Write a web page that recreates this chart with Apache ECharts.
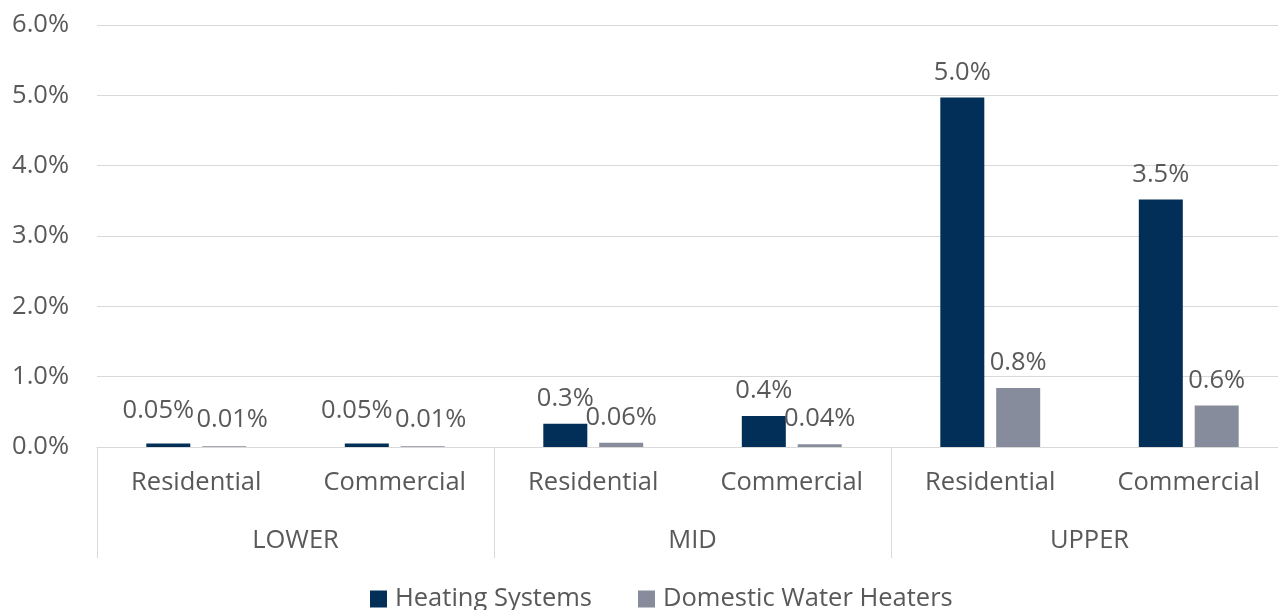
<!DOCTYPE html>
<html>
<head>
<meta charset="utf-8">
<script src="https://cdn.jsdelivr.net/npm/echarts@6/dist/echarts.min.js"></script>
<style>html,body{margin:0;padding:0;background:#fff}#c{width:1278px;height:610px}</style>
</head>
<body>
<div id="c"></div>
<script>
const subCategories = ['Residential', 'Commercial', 'Residential', 'Commercial', 'Residential', 'Commercial'];
const groups = ['LOWER', 'MID', 'UPPER'];
const heatingSystems = [0.05, 0.05, 0.33, 0.44, 4.97, 3.52];
const domesticWaterHeaters = [0.01, 0.01, 0.06, 0.04, 0.84, 0.59];
const seriesNames = ['Heating Systems', 'Domestic Water Heaters'];

const FONT = 'Open Sans';
const FS = 25.5;
const TXT = '#595959';
const fmt = v => (v < 0.1 ? v.toFixed(2) : v.toFixed(1)) + '%';

// Excel nudges the crowded labels of the LOWER group apart
function nudge(params) {
  if (params.dataIndex > 1) return {};
  return params.seriesIndex === 0 ? {dx: -10, dy: -8} : {dx: 8, dy: -2};
}

const chart = echarts.init(document.getElementById('c'), null, {renderer: 'canvas'});
chart.setOption({
  animation: false,
  textStyle: {fontFamily: FONT},
  grid: {left: 97, top: 25, width: 1191, height: 422, outerBoundsMode: 'none', containLabel: false},
  legend: {
    top: 586, left: 370, padding: 0,
    itemWidth: 17, itemHeight: 17, itemGap: 46,
    icon: 'rect',
    textStyle: {fontFamily: FONT, fontSize: FS, color: TXT, padding: [0, 0, 0, 3]},
    data: seriesNames
  },
  xAxis: [
    {
      type: 'category', data: subCategories, position: 'bottom',
      axisLine: {show: true, lineStyle: {color: '#D9D9D9', width: 1}},
      axisTick: {show: false},
      axisLabel: {fontFamily: FONT, fontSize: FS, color: TXT, margin: 23, interval: 0}
    },
    {
      type: 'category', data: groups, position: 'bottom',
      axisLine: {show: false},
      axisTick: {show: true, length: 111, lineStyle: {color: '#D9D9D9', width: 1}},
      axisLabel: {fontFamily: FONT, fontSize: FS, color: TXT, margin: 81, interval: 0}
    }
  ],
  yAxis: {
    type: 'value', min: 0, max: 6, interval: 1,
    axisLine: {show: false}, axisTick: {show: false},
    splitLine: {lineStyle: {color: '#D9D9D9', width: 1}},
    axisLabel: {fontFamily: FONT, fontSize: FS, color: TXT, margin: 28, formatter: v => v.toFixed(1) + '%'}
  },
  series: [
    {
      name: seriesNames[0], type: 'bar', xAxisIndex: 0, data: heatingSystems,
      barWidth: 44, barGap: '27%',
      itemStyle: {color: '#022F57'},
      label: {show: true, position: 'top', distance: 12, fontFamily: FONT, fontSize: FS, color: TXT,
        formatter: p => fmt(p.value)},
      labelLayout: nudge
    },
    {
      name: seriesNames[1], type: 'bar', xAxisIndex: 0, data: domesticWaterHeaters,
      barWidth: 44, barGap: '27%',
      itemStyle: {color: '#878C9C'},
      label: {show: true, position: 'top', distance: 12, fontFamily: FONT, fontSize: FS, color: TXT,
        formatter: p => fmt(p.value)},
      labelLayout: nudge
    }
  ]
});
</script>
</body>
</html>
